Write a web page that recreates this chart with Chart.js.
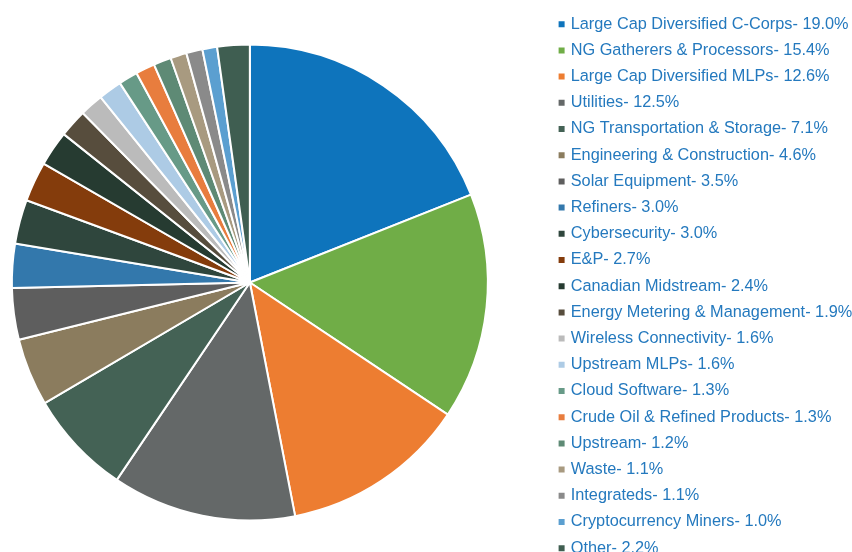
<!DOCTYPE html>
<html>
<head>
<meta charset="utf-8">
<script src="https://cdn.jsdelivr.net/npm/chart.js@4"></script>
<style>
    html, body { margin: 0; padding: 0; background: #fff; overflow: hidden; width: 852px; height: 552px; }
    #wrap { position: absolute; left: -51px; top: -6px; height: 577px; }
</style>
</head>
<body>
<div id="wrap"><canvas id="sectorChart"></canvas></div>
<script>
// sector weights (%)
const sectors = [
    'Large Cap Diversified C-Corps', 'NG Gatherers & Processors', 'Large Cap Diversified MLPs',
    'Utilities', 'NG Transportation & Storage', 'Engineering & Construction', 'Solar Equipment',
    'Refiners', 'Cybersecurity', 'E&P', 'Canadian Midstream', 'Energy Metering & Management',
    'Wireless Connectivity', 'Upstream MLPs', 'Cloud Software', 'Crude Oil & Refined Products',
    'Upstream', 'Waste', 'Integrateds', 'Cryptocurrency Miners', 'Other'
];
const weights = [19.0, 15.4, 12.6, 12.5, 7.1, 4.6, 3.5, 3.0, 3.0, 2.7, 2.4, 1.9, 1.6, 1.6, 1.3, 1.3, 1.2, 1.1, 1.1, 1.0, 2.2];
const sliceColors = [
    '#0E74BC', '#70AD47', '#ED7D31', '#646868', '#446255', '#8B7C5E', '#5E5E5E',
    '#3378AC', '#2F463D', '#843C0C', '#263B31', '#574D3D', '#BBBBBB', '#ADCBE5',
    '#679A87', '#E87D3E', '#5E8A75', '#A89A80', '#8A8A8A', '#5B9FD0', '#3F5E51'
];

const legendTexts = sectors.map((s, i) => s + '- ' + weights[i].toFixed(1) + '%');
const fontFamily = "'Liberation Sans', Arial, sans-serif";
const fontSize = 16.3;
const rowGap = 9.9;

// size the canvas so the legend starts where the reference has it
const m = document.createElement('canvas').getContext('2d');
m.font = fontSize + 'px ' + fontFamily;
const widest = Math.max(...legendTexts.map(t => m.measureText(t).width));
const legendW = rowGap + 2 + fontSize / 2 + widest + 10;
document.getElementById('wrap').style.width = (51 + 550.7 + legendW) + 'px';

new Chart(document.getElementById('sectorChart'), {
    type: 'pie',
    data: {
        labels: sectors,
        datasets: [{
            data: weights,
            backgroundColor: sliceColors,
            borderColor: '#ffffff',
            borderWidth: 2,
            radius: 238
        }]
    },
    options: {
        responsive: true,
        maintainAspectRatio: false,
        animation: false,
        plugins: {
            tooltip: { enabled: false },
            legend: {
                position: 'right',
                align: 'start',
                title: { display: true, text: ' ', font: { size: 1 }, padding: 5.47 },
                labels: {
                    usePointStyle: true,
                    boxWidth: 2,
                    boxHeight: 6,
                    padding: rowGap,
                    color: '#2479BE',
                    font: { family: fontFamily, size: fontSize },
                    generateLabels: () => legendTexts.map((t, i) => ({
                        text: t,
                        fillStyle: sliceColors[i],
                        strokeStyle: sliceColors[i],
                        lineWidth: 0,
                        pointStyle: 'rect',
                        fontColor: '#2479BE',
                        hidden: false,
                        index: i
                    }))
                }
            }
        }
    }
});
</script>
</body>
</html>
